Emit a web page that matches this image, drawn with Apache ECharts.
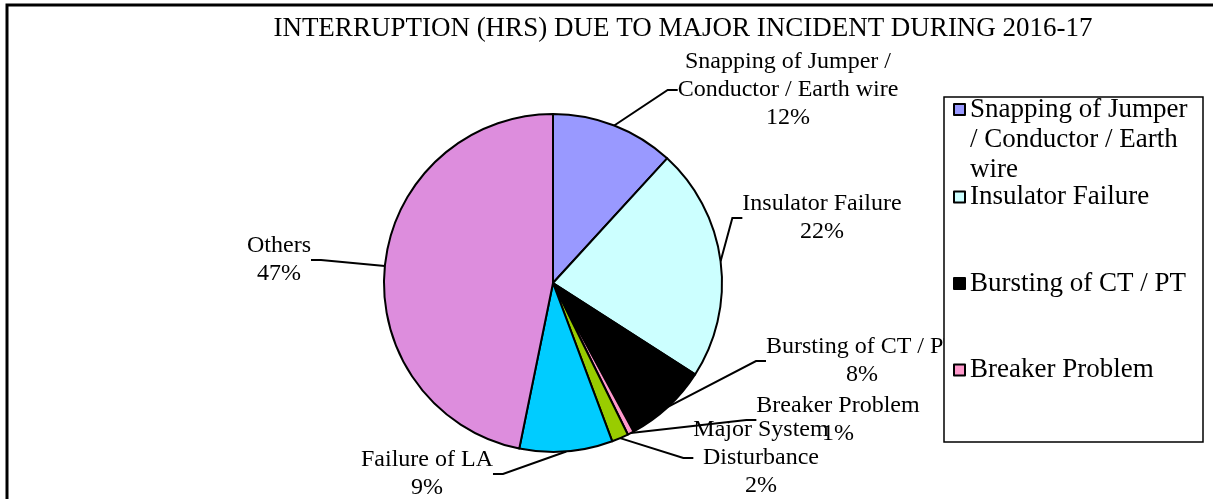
<!DOCTYPE html>
<html>
<head>
<meta charset="utf-8">
<script src="https://cdn.jsdelivr.net/npm/echarts@6/dist/echarts.min.js"></script>
<style>
  html, body { margin: 0; padding: 0; background: #fff; }
  #chart { width: 1213px; height: 499px; }
</style>
</head>
<body>
<div id="chart"></div>
<script>
// share of interruption hours, clockwise from 12 o'clock
const causes = [
  "Snapping of Jumper / Conductor / Earth wire",
  "Insulator Failure",
  "Bursting of CT / PT",
  "Breaker Problem",
  "Major System Disturbance",
  "Failure of LA",
  "Others"
];
const shares = [11.8, 22.3, 8.0, 0.6, 1.6, 8.9, 46.8];
const sliceColors = ["#9999ff", "#ccffff", "#000000", "#ff99cc", "#99cc00", "#00ccff", "#dd8ddd"];

// how the texts wrap in the labels and in the legend
const labelText = [
  "Snapping of Jumper /\nConductor / Earth wire",
  "Insulator Failure",
  "Bursting of CT / PT",
  "Breaker Problem",
  "Major System\nDisturbance",
  "Failure of LA",
  "Others"
];
// the two leading blank lines keep the marker level with the first line
const legendText = [
  "\n\nSnapping of Jumper\n/ Conductor / Earth\nwire",
  "Insulator Failure",
  "Bursting of CT / PT",
  "Breaker Problem"
];

// where each label sits (centre of the text block)
const labelSpots = [[788, 90], [822, 218], [862, 361], [838, 420], [761, 458], [427, 474], [279, 260]];

const serif = "Liberation Serif";

const legendBase = {
  z: 10,
  left: 953,
  padding: 0,
  orient: "vertical",
  selectedMode: false,
  icon: "rect",
  itemWidth: 11,
  itemHeight: 11,
  itemStyle: { borderColor: "#000", borderWidth: 2 },
  formatter: name => legendText[causes.indexOf(name)],
  textStyle: { fontFamily: serif, fontSize: 27, lineHeight: 30, color: "#000" }
};

const chart = echarts.init(document.getElementById("chart"));
chart.setOption({
  animation: false,
  backgroundColor: "#fff",
  title: {
    text: "INTERRUPTION (HRS) DUE TO MAJOR INCIDENT DURING 2016-17",
    left: 678,
    top: 10,
    textAlign: "center",
    textStyle: { fontFamily: serif, fontSize: 27, fontWeight: "normal", color: "#000" }
  },
  graphic: [
    {
      type: "rect",
      z: 1,
      shape: { x: 7, y: 5, width: 1300, height: 600 },
      style: { fill: null, stroke: "#000", lineWidth: 3 }
    },
    {
      type: "rect",
      z: 5,
      shape: { x: 944, y: 97, width: 259, height: 345 },
      style: { fill: "#fff", stroke: "#000", lineWidth: 1.5 }
    }
  ],
  legend: [
    Object.assign({}, legendBase, { top: 34.5, data: causes.slice(0, 1) }),
    Object.assign({}, legendBase, { top: 182, itemGap: 56.5, data: causes.slice(1, 4) })
  ],
  series: [
    {
      type: "pie",
      center: [553, 283],
      radius: 169,
      startAngle: 90,
      clockwise: true,
      color: sliceColors,
      itemStyle: { borderColor: "#000", borderWidth: 2 },
      emphasis: { disabled: true },
      label: {
        show: true,
        color: "#000",
        fontFamily: serif,
        fontSize: 24,
        lineHeight: 28,
        align: "center",
        formatter: p => labelText[p.dataIndex] + "\n" + Math.round(p.percent) + "%"
      },
      labelLine: {
        show: true,
        length: 10,
        length2: 10,
        lineStyle: { color: "#000", width: 2 }
      },
      labelLayout: p => ({
        x: labelSpots[p.dataIndex][0],
        y: labelSpots[p.dataIndex][1],
        align: "center",
        verticalAlign: "middle"
      }),
      data: causes.map((c, i) => ({ name: c, value: shares[i] }))
    }
  ]
});
</script>
</body>
</html>
